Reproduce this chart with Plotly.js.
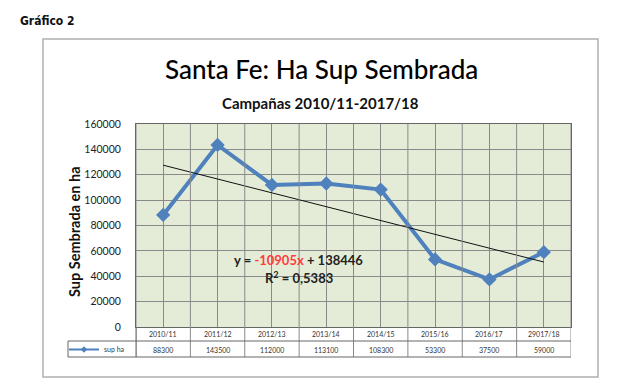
<!DOCTYPE html>
<html>
<head>
<meta charset="utf-8">
<script src="https://cdn.plot.ly/plotly-3.0.1.min.js"></script>
<style>
html,body{margin:0;padding:0;background:#fff;}
#chart{width:630px;height:389px;}
</style>
</head>
<body>
<div id="chart"></div>
<script>
// ---- data ----
var categories = ["2010/11","2011/12","2012/13","2013/14","2014/15","2015/16","2016/17","29017/18"];
var supHa = [88300, 143500, 112000, 113100, 108300, 53300, 37500, 59000];
var valueLabels = ["88300","143500","112000","113100","108300","53300","37500","59000"];
var seriesName = "sup ha";
var trendSlope = -10905;
var trendIntercept = 138446;
var rSquaredText = "0,5383";
var yTicks = [0,20000,40000,60000,80000,100000,120000,140000,160000];

// ---- layout helpers (pixel -> paper) ----
var W = 630, H = 389;
var L = 136, R = 571, T = 124, B = 327;
function px(x){ return (x - L) / (R - L); }
function py(y){ return (B - y) / (B - T); }

var font = "Lato, 'Open Sans', sans-serif";
var gridColor = "#8a8a8a";
var lineBlue = "#4f81bd";

// trendline endpoints from chart's equation (x = 1..n)
var trendX = [categories[0], categories[categories.length-1]];
var trendY = [trendSlope*1 + trendIntercept, trendSlope*categories.length + trendIntercept];

var traces = [
  {
    x: categories, y: supHa, name: seriesName, type: "scatter", mode: "lines+markers",
    line: {color: lineBlue, width: 4},
    marker: {symbol: "diamond", size: 11, color: lineBlue},
    showlegend: false, hoverinfo: "skip"
  },
  {
    x: trendX, y: trendY, type: "scatter", mode: "lines",
    line: {color: "#111111", width: 1},
    showlegend: false, hoverinfo: "skip"
  },
  {
    // legend key for the data table
    x: [null], y: [null], name: seriesName, type: "scatter", mode: "lines+markers",
    line: {color: lineBlue, width: 2},
    marker: {symbol: "diamond", size: 5, color: lineBlue},
    showlegend: true, hoverinfo: "skip"
  }
];

var shapes = [];
// outer chart border
shapes.push({type:"rect", xref:"paper", yref:"paper", x0:px(43), x1:px(598), y0:py(377), y1:py(39),
  line:{color:"#b0b0b0", width:1.5}, fillcolor:"rgba(0,0,0,0)", layer:"below"});
// category boundary lines extending through data table
for (var i = 0; i <= categories.length; i++) {
  shapes.push({type:"line", xref:"x", yref:"paper", x0:i-0.5, x1:i-0.5, y0:py(357), y1:1,
    line:{color: gridColor, width:1}});
}
// table horizontal lines
shapes.push({type:"line", xref:"paper", yref:"paper", x0:0, x1:1, y0:py(341), y1:py(341), line:{color:"#666", width:1}});
shapes.push({type:"line", xref:"paper", yref:"paper", x0:px(68), x1:0, y0:py(341), y1:py(341), line:{color:"#666", width:1}});
shapes.push({type:"line", xref:"paper", yref:"paper", x0:px(68), x1:1, y0:py(357), y1:py(357), line:{color:"#666", width:1}});
shapes.push({type:"line", xref:"paper", yref:"paper", x0:px(68), x1:px(68), y0:py(357), y1:py(341), line:{color:"#666", width:1}});
shapes.push({type:"line", xref:"paper", yref:"paper", x0:0, x1:0, y0:py(357), y1:py(327), line:{color:"#666", width:1}});

var annotations = [];
// table: category header row and values row
for (var j = 0; j < categories.length; j++) {
  annotations.push({xref:"x", yref:"paper", x:categories[j], y:py(334), text:categories[j], showarrow:false,
    xanchor:"center", yanchor:"middle", font:{family:font, size:7, color:"#333"}});
  annotations.push({xref:"x", yref:"paper", x:categories[j], y:py(349.5), text:valueLabels[j], showarrow:false,
    xanchor:"center", yanchor:"middle", font:{family:font, size:7, color:"#333"}});
}
// titles
annotations.push({xref:"paper", yref:"paper", x:px(321), y:py(69), text:"Santa Fe: Ha Sup Sembrada", showarrow:false,
  xanchor:"center", yanchor:"middle", font:{family:font, size:26, color:"#000", weight:500}});
annotations.push({xref:"paper", yref:"paper", x:px(320), y:py(103), text:"<b>Campañas 2010/11-2017/18</b>", showarrow:false,
  xanchor:"center", yanchor:"middle", font:{family:font, size:15, color:"#111"}});
annotations.push({xref:"paper", yref:"paper", x:px(18), y:py(21), text:"<b>Gráfico 2</b>", showarrow:false,
  xanchor:"left", yanchor:"middle", font:{family:"'Liberation Sans Narrow','DejaVu Sans Condensed', sans-serif", size:12, color:"#111"}});
// y-axis title
annotations.push({xref:"paper", yref:"paper", x:px(74), y:py(232), text:"<b>Sup Sembrada en ha</b>", showarrow:false,
  textangle:-90, xanchor:"center", yanchor:"middle", font:{family:font, size:14.5, color:"#111"}});
// trendline equation
annotations.push({xref:"paper", yref:"paper", x:px(298), y:py(260),
  text:"<b>y = <span style='color:#ff3b3b'>" + trendSlope + "x</span> + " + trendIntercept + "</b>", showarrow:false,
  xanchor:"center", yanchor:"middle", font:{family:font, size:13, color:"#222"}});
annotations.push({xref:"paper", yref:"paper", x:px(299), y:py(277),
  text:"<b>R<sup>2</sup> = " + rSquaredText + "</b>", showarrow:false,
  xanchor:"center", yanchor:"middle", font:{family:font, size:13, color:"#222"}});

var layout = {
  width: W, height: H,
  margin: {l: L, r: W - R, t: T, b: H - B, pad: 0},
  paper_bgcolor: "#ffffff",
  plot_bgcolor: "#e4ecd8",
  showlegend: true,
  legend: {x: px(64), y: py(349.5), xanchor: "left", yanchor: "middle", orientation: "h",
    bgcolor: "rgba(0,0,0,0)", font: {family: font, size: 7, color: "#333"}, itemwidth: 30,
    tracegroupgap: 0},
  xaxis: {
    type: "category", categoryarray: categories, range: [-0.5, categories.length - 0.5],
    showgrid: true, gridcolor: gridColor, gridwidth: 1,
    showline: true, linecolor: "#666", mirror: true, linewidth: 1,
    showticklabels: false, ticks: "", zeroline: false, fixedrange: true
  },
  yaxis: {
    range: [0, 160000], tickvals: yTicks, ticktext: yTicks.map(String),
    showgrid: true, gridcolor: gridColor, gridwidth: 1,
    showline: true, linecolor: "#666", mirror: true, linewidth: 1,
    ticks: "", ticklabelstandoff: 12,
    tickfont: {family: font, size: 10.5, color: "#222"},
    zeroline: false, fixedrange: true
  },
  shapes: shapes,
  annotations: annotations
};

Plotly.newPlot("chart", traces, layout, {staticPlot: true, displayModeBar: false});
</script>
</body>
</html>
